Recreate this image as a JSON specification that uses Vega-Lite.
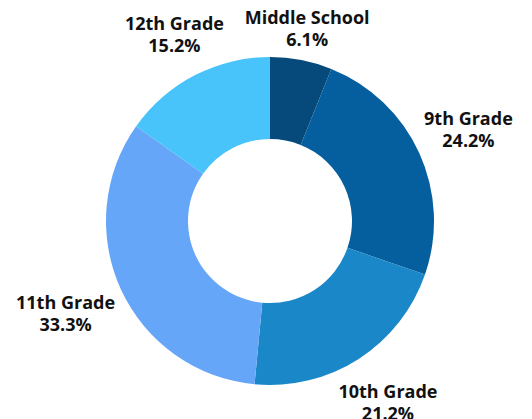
{
  "$schema": "https://vega.github.io/schema/vega-lite/v6.json",
  "autosize": {"type": "none"},
  "width": 524,
  "height": 396,
  "padding": {"left": 8, "top": 23, "right": 0, "bottom": 0},
  "background": "white",
  "title": {
    "text": "GRADE LEVEL",
    "anchor": "start",
    "frame": "group",
    "font": "DejaVu Sans Condensed",
    "fontWeight": "bold",
    "fontSize": 22,
    "color": "#000000",
    "baseline": "alphabetic",
    "offset": 8,
    "dx": -70
  },
  "data": {
    "values": [
      {"idx": 1, "grade": "Middle School", "pct": 6.1},
      {"idx": 2, "grade": "9th Grade", "pct": 24.2},
      {"idx": 3, "grade": "10th Grade", "pct": 21.2},
      {"idx": 4, "grade": "11th Grade", "pct": 33.3},
      {"idx": 5, "grade": "12th Grade", "pct": 15.2}
    ]
  },
  "transform": [
    {"stack": "pct", "groupby": [], "sort": [{"field": "idx", "order": "ascending"}], "as": ["t0", "t1"]},
    {"calculate": "(datum.t0 + datum.t1) / 2", "as": "tmid"},
    {"calculate": "[datum.grade, datum.pct + '%']", "as": "lbl"}
  ],
  "layer": [
    {
      "mark": {"type": "arc", "radius": 164, "radius2": 82},
      "encoding": {
        "theta": {"field": "t0", "type": "quantitative", "stack": null, "scale": {"domain": [0, 100]}},
        "theta2": {"field": "t1"},
        "color": {
          "field": "grade",
          "type": "nominal",
          "sort": null,
          "legend": null,
          "scale": {
            "domain": ["Middle School", "9th Grade", "10th Grade", "11th Grade", "12th Grade"],
            "range": ["#054a7a", "#055f9f", "#1a87c9", "#66a6f8", "#48c4fb"]
          }
        }
      }
    },
    {
      "transform": [{"filter": "datum.idx == 1"}],
      "mark": {"type": "text", "radius": 195, "dy": -11, "font": "Open Sans", "fontWeight": "bold", "fontSize": 18, "lineHeight": 22, "color": "#111111", "align": "center", "baseline": "middle"},
      "encoding": {
        "theta": {"field": "tmid", "type": "quantitative", "stack": null, "scale": {"domain": [0, 100]}},
        "text": {"field": "lbl"}
      }
    },
    {
      "transform": [{"filter": "datum.idx == 5"}],
      "mark": {"type": "text", "radius": 208, "dy": -11, "font": "Open Sans", "fontWeight": "bold", "fontSize": 18, "lineHeight": 22, "color": "#111111", "align": "center", "baseline": "middle"},
      "encoding": {
        "theta": {"field": "tmid", "type": "quantitative", "stack": null, "scale": {"domain": [0, 100]}},
        "text": {"field": "lbl"}
      }
    },
    {
      "transform": [{"filter": "datum.idx == 2 || datum.idx == 3"}],
      "mark": {"type": "text", "radius": 218, "dy": -11, "font": "Open Sans", "fontWeight": "bold", "fontSize": 18, "lineHeight": 22, "color": "#111111", "align": "center", "baseline": "middle"},
      "encoding": {
        "theta": {"field": "tmid", "type": "quantitative", "stack": null, "scale": {"domain": [0, 100]}},
        "text": {"field": "lbl"}
      }
    },
    {
      "transform": [{"filter": "datum.idx == 4"}],
      "mark": {"type": "text", "radius": 225, "dy": -11, "font": "Open Sans", "fontWeight": "bold", "fontSize": 18, "lineHeight": 22, "color": "#111111", "align": "center", "baseline": "middle"},
      "encoding": {
        "theta": {"field": "tmid", "type": "quantitative", "stack": null, "scale": {"domain": [0, 100]}},
        "text": {"field": "lbl"}
      }
    }
  ]
}
